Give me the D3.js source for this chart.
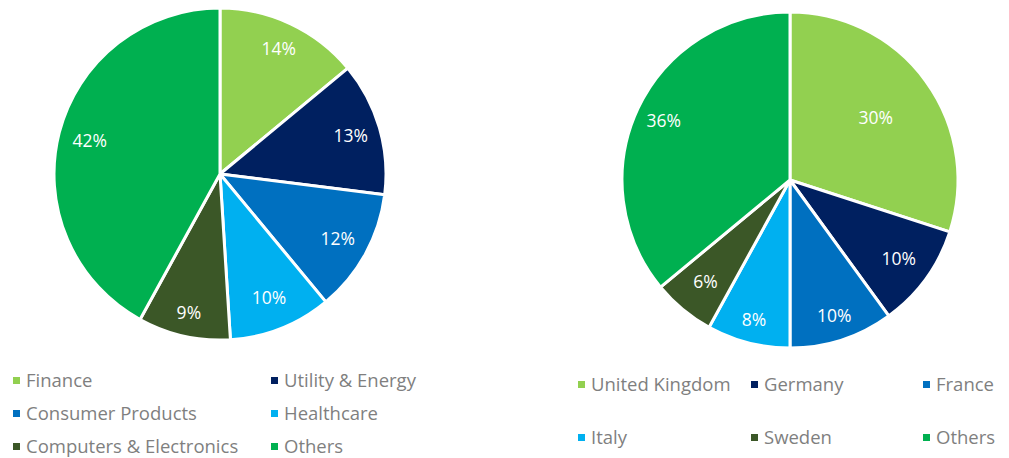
<!DOCTYPE html>
<html><head><meta charset="utf-8">
<script src="https://cdn.jsdelivr.net/npm/d3@7"></script>
<style>body{margin:0;background:#fff;} svg{display:block;font-family:"Open Sans",sans-serif;}</style>
</head><body><svg id="c" width="1009" height="458"></svg>
<script>
const colors = ["#92D050","#002060","#0070C0","#00B0F0","#3B5727","#00B050"];
const sectorCats = ["Finance","Utility & Energy","Consumer Products","Healthcare","Computers & Electronics","Others"];
const sectorVals = [14,13,12,10,9,42];
const countryCats = ["United Kingdom","Germany","France","Italy","Sweden","Others"];
const countryVals = [30,10,10,8,6,36];

const svg = d3.select("#c");

function drawPie(vals, cx, cy, r, labelR) {
  const pie = d3.pie().sort(null).value(d=>d)(vals);
  const arc = d3.arc().innerRadius(0).outerRadius(r);
  const g = svg.append("g").attr("transform",`translate(${cx},${cy})`);
  g.selectAll("path").data(pie).join("path")
    .attr("d",arc).attr("fill",(d,i)=>colors[i])
    .attr("stroke","#fff").attr("stroke-width",3).attr("stroke-linejoin","round");
  g.selectAll("text").data(pie).join("text")
    .attr("transform",(d,i)=>{
      const a=(d.startAngle+d.endAngle)/2, rr=r*labelR[i];
      return `translate(${Math.sin(a)*rr},${-Math.cos(a)*rr})`;})
    .attr("text-anchor","middle").attr("dy","0.35em")
    .attr("fill","#fff").attr("font-size",17.5)
    .text(d=>d.value+"%");
}

drawPie(sectorVals, 220, 174, 166, [0.83,0.82,0.81,0.8,0.86,0.81]);
drawPie(countryVals, 790, 180, 168, [0.63,0.8,0.85,0.86,0.79,0.83]);

function legend(cats, positions) {
  const g = svg.append("g");
  const items = g.selectAll("g").data(cats).join("g")
    .attr("transform",(d,i)=>`translate(${positions[i][0]},${positions[i][1]})`);
  items.append("rect").attr("x",0).attr("y",-4).attr("width",7).attr("height",7)
    .attr("fill",(d,i)=>colors[i]);
  items.append("text").attr("x",13).attr("dy","0.35em").attr("font-size",18.5)
    .attr("fill","#7F7F7F").text(d=>d);
}
legend(sectorCats, [[13,381],[271,381],[13,414],[271,414],[13,447],[271,447]]);
legend(countryCats, [[578,385],[751,385],[923,385],[578,438],[751,438],[923,438]]);
</script></body></html>
